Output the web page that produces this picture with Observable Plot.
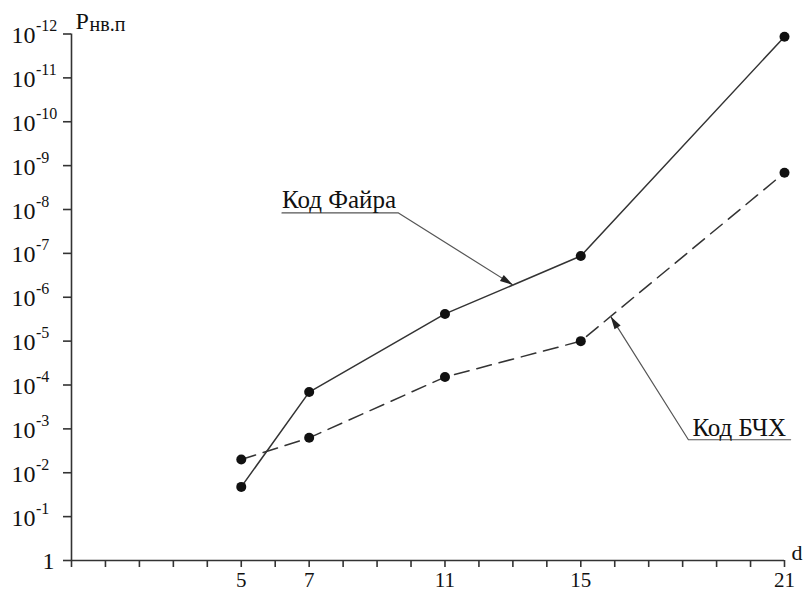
<!DOCTYPE html>
<html><head><meta charset="utf-8">
<script src="https://cdn.jsdelivr.net/npm/d3@7"></script>
<script src="https://cdn.jsdelivr.net/npm/@observablehq/plot@0.6"></script>
<style>
body{margin:0;background:#fff}
#chart svg, #chart svg text{font-family:"Liberation Serif","Times New Roman",Tinos,"Noto Serif","DejaVu Serif",FreeSerif,"Nimbus Roman",serif !important;}
</style>
</head><body><div id="chart"></div>
<script>
// ---- data ----
const codeLengths = [5, 7, 11, 15, 21];
const fireCode = [2.1e-2, 1.45e-4, 2.4e-6, 1.15e-7, 1.15e-12];   // Код Файра
const bchCode  = [5.0e-3, 1.6e-3, 6.6e-5, 1.0e-5, 1.45e-9];      // Код БЧХ
const xTickValues = d3.range(0, 22);
const xTickLabels = [5, 7, 11, 15, 21];
const yTickValues = [1, 1e-1, 1e-2, 1e-3, 1e-4, 1e-5, 1e-6, 1e-7, 1e-8, 1e-9, 1e-10, 1e-11, 1e-12];
const yTickExponents = ["", "-1", "-2", "-3", "-4", "-5", "-6", "-7", "-8", "-9", "-10", "-11", "-12"];
const fireName = "Код Файра";
const bchName = "Код БЧХ";
const yTitle = "P";
const yTitleSub = "нв.п";
const xTitle = "d";
// leader lines (data coordinates): label underline start, elbow, arrow tip on curve
const fireLeaderD = [6.2, 9.63, 13.0];
const fireLeaderP = [1.2e-8, 1.2e-8, 5.25e-7];
const bchLeaderD = [21.18, 18.17, 15.88];
const bchLeaderP = [1.77e-3, 1.77e-3, 2.73e-6];

const fire = codeLengths.map((d, i) => ({d, p: fireCode[i]}));
const bch = codeLengths.map((d, i) => ({d, p: bchCode[i]}));
const fireLeader = fireLeaderD.map((d, i) => ({d, p: fireLeaderP[i]}));
const bchLeader = bchLeaderD.map((d, i) => ({d, p: bchLeaderP[i]}));
const yLabels = yTickValues.map((v, i) => ({v, e: yTickExponents[i]}));

function arrowHead(color, context) {
  const ns = "http://www.w3.org/2000/svg";
  const m = context.document.createElementNS(ns, "marker");
  m.setAttribute("viewBox", "-14 -4 14 8");
  m.setAttribute("markerWidth", 14);
  m.setAttribute("markerHeight", 8);
  m.setAttribute("markerUnits", "userSpaceOnUse");
  m.setAttribute("orient", "auto");
  m.setAttribute("fill", "#222");
  m.setAttribute("stroke", "none");
  const p = context.document.createElementNS(ns, "path");
  p.setAttribute("d", "M0,0L-13,-3.6L-13,3.6Z");
  m.appendChild(p);
  return m;
}

const ink = "#333";
const serif = "Liberation Serif, Times New Roman, serif";
const txt = (o) => ({fill: "#111", fontFamily: serif, ...o});
const chart = Plot.plot({
  width: 807,
  height: 591,
  marginLeft: 71,
  marginRight: 23,
  marginTop: 33.5,
  marginBottom: 31,
  style: {fontFamily: serif, background: "#fff", color: "#111", overflow: "visible"},
  x: {domain: [0, 21], label: null},
  y: {type: "log", domain: [1, 1e-12], label: null},
  marks: [
    Plot.ruleX([0], {stroke: ink, strokeWidth: 1.6}),
    Plot.ruleY([1], {stroke: ink, strokeWidth: 1.6}),
    Plot.axisY({ticks: yTickValues, tickSize: 8, tickFormat: () => "", label: null, stroke: ink, strokeWidth: 1.6}),
    Plot.axisX({ticks: xTickValues, tickSize: 7, tickFormat: () => "", label: null, stroke: ink, strokeWidth: 1.6}),
    // y tick labels: 10 with superscript exponent
    Plot.text(yLabels.filter(o => o.e), txt({y: "v", text: () => "10", frameAnchor: "left", dx: -60, dy: 9, textAnchor: "start", lineAnchor: "bottom", fontSize: 24})),
    Plot.text(yLabels.filter(o => o.e), txt({y: "v", text: "e", frameAnchor: "left", dx: -35.5, dy: -3, textAnchor: "start", lineAnchor: "bottom", fontSize: 16})),
    Plot.text(yLabels.filter(o => !o.e), txt({y: "v", text: () => "1", frameAnchor: "left", dx: -23, dy: 8, textAnchor: "middle", lineAnchor: "bottom", fontSize: 24})),
    // x tick labels
    Plot.text(xTickLabels, txt({x: d => d, text: d => String(d), frameAnchor: "bottom", dy: 26, lineAnchor: "bottom", fontSize: 21})),
    // axis titles
    Plot.text([xTitle], txt({frameAnchor: "bottom-right", text: d => d, dx: 7, dy: -1, textAnchor: "start", lineAnchor: "bottom", fontSize: 22})),
    Plot.text([yTitle], txt({frameAnchor: "top-left", text: d => d, dx: 4, dy: -5, textAnchor: "start", lineAnchor: "bottom", fontSize: 24})),
    Plot.text([yTitleSub], txt({frameAnchor: "top-left", text: d => d, dx: 18, dy: -3.5, textAnchor: "start", lineAnchor: "bottom", fontSize: 20})),
    // series
    Plot.line(fire, {x: "d", y: "p", stroke: ink, strokeWidth: 1.5}),
    Plot.line(bch, {x: "d", y: "p", stroke: ink, strokeWidth: 1.5, strokeDasharray: "15,8"}),
    Plot.dot(fire, {x: "d", y: "p", r: 5, fill: "#111", stroke: "none"}),
    Plot.dot(bch, {x: "d", y: "p", r: 5, fill: "#111", stroke: "none"}),
    // annotations
    Plot.line(fireLeader, {x: "d", y: "p", stroke: "#555", strokeWidth: 1.2, markerEnd: arrowHead}),
    Plot.line(bchLeader, {x: "d", y: "p", stroke: "#555", strokeWidth: 1.2, markerEnd: arrowHead}),
    Plot.text([fireLeader[0]], txt({x: "d", y: "p", text: () => fireName, dx: 0, dy: -4.5, textAnchor: "start", lineAnchor: "bottom", fontSize: 25})),
    Plot.text([bchLeader[1]], txt({x: "d", y: "p", text: () => bchName, dx: 4, dy: -4, textAnchor: "start", lineAnchor: "bottom", fontSize: 25}))
  ]
});
document.getElementById("chart").appendChild(chart);
</script>
</body></html>
